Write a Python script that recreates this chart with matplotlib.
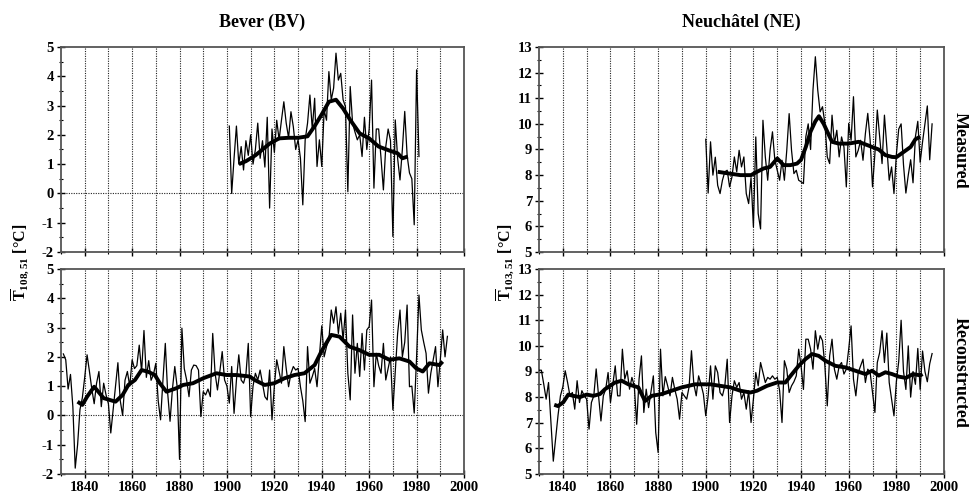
import numpy as np
import matplotlib
matplotlib.use('Agg')
import matplotlib.pyplot as plt
from matplotlib.ticker import MultipleLocator

plt.rcParams['font.family'] = ['Liberation Serif', 'DejaVu Serif']
plt.rcParams['font.weight'] = 'bold'
plt.rcParams['axes.unicode_minus'] = False
plt.rcParams['mathtext.fontset'] = 'custom'
plt.rcParams['mathtext.rm'] = 'Liberation Serif:bold'
plt.rcParams['mathtext.bf'] = 'Liberation Serif:bold'
plt.rcParams['mathtext.it'] = 'Liberation Serif:bold'

# ---------------- data ----------------
# Bever (BV), measured, annual values
bv_meas_start = 1901
bv_meas_vals = [2.3, 0.0, 1.2, 2.3, 1.0, 1.6, 0.8, 1.8, 1.3, 2.0,
                1.0, 1.5, 2.4, 1.2, 1.8, 0.9, 2.6, -0.5, 2.2, 1.4,
                2.5, 1.83, 2.5, 3.13, 2.4, 1.9, 2.79, 2.28, 1.5, 1.83,
                1.2, -0.39, 1.83, 2.4, 3.36, 2.2, 3.25, 0.92, 1.83, 0.92,
                2.85, 2.5, 4.16, 3.19, 3.6, 4.79, 3.87, 4.1, 3.2, 2.96,
                0.06, 3.65, 2.4, 2.1, 1.83, 2.0, 1.26, 2.6, 1.5, 2.2,
                3.87, 0.18, 2.2, 2.2, 1.2, 0.12, 1.6, 2.2, 1.8, -1.47,
                2.51, 1.2, 0.46, 1.5, 2.8, 1.3, 0.7, 0.5, -1.07, 4.22,
                1.26]
bv_meas_smooth_years = [1905, 1908, 1912, 1915, 1918, 1922, 1926, 1930, 1934, 1937,
                        1940, 1943, 1946, 1949, 1952, 1956, 1960, 1964, 1969, 1972,
                        1974, 1976.3]
bv_meas_smooth_vals = [1.0, 1.1, 1.3, 1.5, 1.7, 1.88, 1.9, 1.9, 1.95, 2.3,
                       2.7, 3.13, 3.2, 2.9, 2.51, 2.05, 1.88, 1.6, 1.45, 1.37,
                       1.2, 1.26]

# Bever (BV), reconstructed, annual values
bv_rec_start = 1831
bv_rec_vals = [2.1, 1.9, 0.9, 1.4, 0.3, -1.8, -1.0, 0.2, 0.6, 1.3,
               2.07, 1.5, 0.9, 0.4, 1.1, 1.5, 0.3, 1.1, 0.7, 0.4,
               -0.6, 0.2, 1.0, 1.8, 0.5, 0.0, 1.2, 1.5, 1.0, 1.9,
               1.6, 1.7, 2.4, 1.5, 2.9, 1.3, 1.87, 1.2, 1.4, 1.78,
               0.5, -0.15, 1.2, 2.46, 0.76, -0.2, 0.9, 1.67, 0.98, -1.5,
               2.98, 1.6, 1.21, 0.64, 1.55, 1.72, 1.7, 1.55, -0.04, 0.81,
               0.7, 0.9, 0.64, 2.8, 1.44, 0.87, 1.5, 2.18, 1.21, 1.0,
               0.42, 1.67, 0.07, 1.2, 2.07, 1.21, 1.1, 1.4, 2.46, -0.04,
               1.0, 1.44, 1.21, 1.55, 1.1, 0.64, 0.53, 1.55, -0.15, 1.0,
               1.9, 1.5, 1.1, 2.35, 1.6, 0.98, 1.44, 1.67, 1.55, 1.61,
               0.98, 0.5, -0.21, 2.35, 1.1, 1.33, 1.6, 0.98, 2.0, 3.06,
               2.0, 2.35, 2.6, 3.6, 3.15, 3.71, 2.8, 3.49, 2.58, 3.6,
               1.44, 0.53, 3.43, 1.44, 2.46, 1.33, 2.8, 1.55, 2.92, 3.03,
               3.94, 0.98, 2.12, 1.7, 1.44, 2.46, 1.21, 1.6, 2.0, 0.19,
               1.5, 2.8, 3.6, 2.0, 2.5, 3.77, 0.98, 1.0, 0.08, 2.0,
               4.11, 2.92, 2.5, 2.12, 0.76, 1.44, 1.9, 2.35, 0.98, 1.9,
               2.92, 2.0, 2.7]
bv_rec_smooth_years = [1837, 1839, 1841, 1844, 1848, 1853, 1856, 1858.4, 1861.2, 1864,
                       1866.8, 1869.6, 1871.7, 1874.5, 1878.7, 1881.5, 1885.7, 1890, 1895.6, 1899.8,
                       1904, 1909.6, 1911.7, 1915.9, 1920, 1924.3, 1928.5, 1932.7, 1937, 1939.8,
                       1944, 1947.5, 1951.7, 1955.9, 1960, 1964.3, 1968.5, 1972.7, 1977, 1979.8,
                       1982.6, 1985.4, 1989.6, 1991]
bv_rec_smooth_vals = [0.47, 0.36, 0.64, 0.98, 0.59, 0.47, 0.7, 1.04, 1.21, 1.55,
                      1.49, 1.38, 1.1, 0.81, 0.93, 1.04, 1.1, 1.27, 1.44, 1.38,
                      1.38, 1.33, 1.21, 1.04, 1.1, 1.27, 1.38, 1.44, 1.72, 2.18,
                      2.75, 2.69, 2.35, 2.23, 2.07, 2.07, 1.9, 1.95, 1.84, 1.61,
                      1.5, 1.78, 1.72, 1.84]

# Neuchatel (NE), measured, annual values
ne_meas_start = 1900
ne_meas_vals = [9.4, 7.3, 9.3, 8.0, 8.7, 7.6, 7.28, 7.8, 8.13, 8.19,
                7.54, 7.93, 8.71, 8.13, 8.97, 8.32, 8.71, 7.28, 6.89, 7.9,
                5.98, 9.49, 6.5, 5.9, 10.14, 8.71, 7.8, 8.97, 9.69, 8.58,
                8.19, 7.8, 8.58, 7.8, 8.97, 10.4, 8.97, 8.06, 8.19, 7.8,
                7.74, 7.67, 9.5, 10.0, 9.0, 11.32, 12.62, 11.32, 10.47, 10.67,
                10.02, 8.71, 8.45, 10.34, 9.23, 9.75, 8.71, 9.49, 9.1, 7.54,
                10.02, 9.36, 11.06, 8.71, 8.97, 9.36, 8.58, 9.62, 10.41, 9.36,
                7.54, 8.84, 10.54, 9.49, 8.45, 10.34, 9.1, 7.8, 8.32, 7.28,
                8.8, 9.8, 10.0, 8.4, 7.3, 8.0, 8.6, 7.7, 9.5, 10.1,
                8.5, 9.3, 10.0, 10.7, 8.6, 10.0]
ne_meas_smooth_years = [1905, 1910, 1914.5, 1919, 1921.5, 1924.3, 1927, 1930, 1932.7, 1935.5,
                        1938.3, 1940, 1942, 1944, 1946, 1947.5, 1949.5, 1951.5, 1953, 1955.8,
                        1960, 1964.2, 1967, 1969.8, 1972.6, 1975.4, 1978.2, 1980, 1983, 1986,
                        1988, 1990]
ne_meas_smooth_vals = [8.13, 8.06, 8.0, 8.0, 8.13, 8.26, 8.32, 8.65, 8.39, 8.39,
                       8.45, 8.6, 9.1, 9.7, 10.1, 10.3, 10.0, 9.6, 9.3, 9.23,
                       9.23, 9.3, 9.2, 9.1, 9.0, 8.78, 8.71, 8.7, 8.9, 9.1,
                       9.4, 9.5]

# Neuchatel (NE), reconstructed, annual values
ne_rec_start = 1830
ne_rec_vals = [9.05, 9.05, 8.5, 7.92, 8.57, 7.0, 5.5, 6.4, 7.3, 8.05,
               8.4, 9.03, 8.57, 8.05, 8.18, 7.53, 8.64, 7.79, 8.25, 8.05,
               7.92, 6.75, 7.79, 8.05, 9.1, 8.05, 7.07, 8.05, 8.31, 8.96,
               7.79, 8.5, 9.22, 8.05, 8.05, 9.87, 8.7, 9.03, 8.31, 8.77,
               8.44, 6.94, 8.7, 9.61, 7.4, 8.31, 7.59, 8.2, 8.83, 6.62,
               5.84, 9.87, 8.05, 8.8, 8.44, 8.05, 8.77, 8.3, 7.92, 7.14,
               8.18, 8.05, 7.92, 8.4, 9.81, 8.5, 8.05, 8.83, 8.5, 8.12,
               7.27, 8.05, 9.22, 7.92, 9.22, 8.96, 8.18, 8.05, 8.44, 9.48,
               7.01, 8.05, 8.64, 8.38, 8.57, 7.92, 8.18, 7.53, 8.25, 7.01,
               7.92, 8.96, 8.44, 9.35, 8.96, 8.57, 8.77, 8.7, 8.83, 8.7,
               8.77, 8.25, 7.01, 9.42, 9.09, 8.18, 8.44, 8.6, 8.83, 9.87,
               9.22, 8.3, 10.26, 10.26, 9.87, 9.09, 10.59, 9.87, 10.4, 10.2,
               9.22, 7.66, 9.61, 10.26, 9.09, 8.7, 9.22, 9.35, 8.9, 9.09,
               9.87, 10.78, 8.7, 8.05, 8.96, 9.22, 9.48, 8.57, 9.09, 8.96,
               8.18, 7.4, 9.35, 9.74, 10.59, 9.35, 10.5, 8.57, 7.92, 7.27,
               8.6, 9.4, 11.0, 9.0, 8.3, 10.0, 8.0, 9.0, 8.5, 9.9,
               8.3, 9.8, 9.0, 8.6, 9.3, 9.7]
ne_rec_smooth_years = [1836.4, 1838, 1840.2, 1842.3, 1844.4, 1847.2, 1850, 1852.8, 1855.6, 1857.7,
                       1861.9, 1864.7, 1867.5, 1871.7, 1874.5, 1877.3, 1881.5, 1885.7, 1889.9, 1895.5,
                       1901.9, 1906.1, 1910.3, 1914.5, 1918.7, 1921.5, 1925.7, 1929.9, 1933.4, 1936.2,
                       1939, 1941.8, 1944.6, 1947.4, 1950.2, 1954.4, 1958.6, 1962.8, 1967, 1969.8,
                       1972.6, 1975.4, 1978.2, 1981, 1984, 1987, 1990, 1991]
ne_rec_smooth_vals = [7.7, 7.65, 7.8, 8.1, 8.05, 8.0, 8.1, 8.05, 8.12, 8.31,
                      8.57, 8.64, 8.5, 8.38, 7.85, 8.05, 8.12, 8.25, 8.38, 8.5,
                      8.5, 8.44, 8.38, 8.25, 8.18, 8.25, 8.44, 8.57, 8.57, 8.9,
                      9.22, 9.48, 9.68, 9.61, 9.42, 9.22, 9.16, 9.03, 8.9, 9.03,
                      8.84, 8.97, 8.9, 8.8, 8.75, 8.9, 8.85, 8.9]

titles = ['Bever (BV)', 'Neuchâtel (NE)']
row_labels = ['Measured', 'Reconstructed']
ylabels = [r'$\overline{\mathrm{T}}_{108,51}$ [°C]', r'$\overline{\mathrm{T}}_{103,51}$ [°C]']
grid_years = [1840, 1850, 1860, 1870, 1880, 1890, 1900, 1910, 1920, 1930,
              1940, 1950, 1960, 1970, 1980, 1990]

# ---------------- figure ----------------
W, H = 970, 495
fig = plt.figure(figsize=(W / 100, H / 100), dpi=100)


def ax_at(x0, x1, y0, y1):
    return fig.add_axes([x0 / W, 1 - y1 / H, (x1 - x0) / W, (y1 - y0) / H])


ax_tl = ax_at(61, 464, 47, 252)
ax_bl = ax_at(61, 464, 269, 474)
ax_tr = ax_at(539, 944, 47, 252)
ax_br = ax_at(539, 944, 269, 474)


def style(ax, ylim, labels_bottom, zero):
    ax.set_xlim(1830, 2000)
    ax.set_ylim(*ylim)
    for yr in grid_years:
        ax.axvline(yr, color='#222222', lw=0.8, ls=(0, (1, 1.2)), zorder=1)
    if zero:
        ax.axhline(0, color='#222222', lw=0.8, ls=(0, (1, 1.2)), zorder=1)
    ax.yaxis.set_major_locator(MultipleLocator(1))
    ax.yaxis.set_minor_locator(MultipleLocator(0.5))
    ax.xaxis.set_major_locator(MultipleLocator(20))
    ax.xaxis.set_minor_locator(MultipleLocator(10))
    ax.tick_params(which='major', direction='inout', length=6, width=1,
                   labelsize=10.5, pad=2)
    ax.tick_params(which='minor', direction='inout', length=3, width=0.8)
    ax.tick_params(labelbottom=labels_bottom)
    for lab in ax.get_xticklabels() + ax.get_yticklabels():
        lab.set_fontweight('bold')
    for s in ax.spines.values():
        s.set_color('#555555')
        s.set_linewidth(1.3)


def plot_series(ax, start, vals, sy, sv):
    years = [start + i for i in range(len(vals))]
    ax.plot(years, vals, color='black', lw=0.9, zorder=3)
    ax.plot(sy, sv, color='black', lw=2.8, zorder=4, solid_capstyle='butt')


plot_series(ax_tl, bv_meas_start, bv_meas_vals, bv_meas_smooth_years, bv_meas_smooth_vals)
plot_series(ax_bl, bv_rec_start, bv_rec_vals, bv_rec_smooth_years, bv_rec_smooth_vals)
plot_series(ax_tr, ne_meas_start, ne_meas_vals, ne_meas_smooth_years, ne_meas_smooth_vals)
plot_series(ax_br, ne_rec_start, ne_rec_vals, ne_rec_smooth_years, ne_rec_smooth_vals)

style(ax_tl, (-2, 5), False, True)
style(ax_bl, (-2, 5), True, True)
style(ax_tr, (5, 13), False, False)
style(ax_br, (5, 13), True, False)

fig.text(262 / W, 1 - 22 / H, titles[0], ha='center', va='center', fontsize=13, fontweight='bold')
fig.text(741 / W, 1 - 22 / H, titles[1], ha='center', va='center', fontsize=13, fontweight='bold')
fig.text(960 / W, 1 - 150 / H, row_labels[0], rotation=270, ha='center', va='center',
         fontsize=13, fontweight='bold')
fig.text(960 / W, 1 - 372 / H, row_labels[1], rotation=270, ha='center', va='center',
         fontsize=13, fontweight='bold')
fig.text(20 / W, 1 - 262 / H, ylabels[0], rotation=90, ha='center', va='center',
         fontsize=11.5, fontweight='bold')
fig.text(505 / W, 1 - 262 / H, ylabels[1], rotation=90, ha='center', va='center',
         fontsize=11.5, fontweight='bold')

fig.savefig('out.png', dpi=100)
